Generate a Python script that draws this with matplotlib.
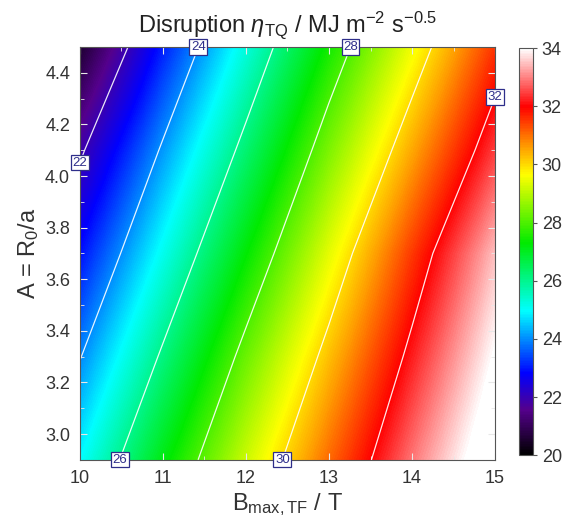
import matplotlib
matplotlib.use("Agg")
import matplotlib.pyplot as plt
from matplotlib.colors import LinearSegmentedColormap, Normalize
from matplotlib.ticker import MultipleLocator, FormatStrFormatter
import numpy as np

plt.rcParams['font.family'] = ['Liberation Sans', 'DejaVu Sans']
plt.rcParams['mathtext.fontset'] = 'custom'
plt.rcParams['mathtext.rm'] = 'Liberation Sans'
plt.rcParams['mathtext.it'] = 'Liberation Sans:italic'
plt.rcParams['mathtext.bf'] = 'Liberation Sans:bold'

# field grid: B_max,TF along columns, aspect ratio A along rows
b_tf = [10.0, 11.0, 12.0, 13.0, 14.0, 15.0]
aspect = [2.9, 3.3, 3.7, 4.1, 4.5]
eta_tq = [
    [24.95, 27.14, 29.17, 31.06, 32.90, 34.60],   # A = 2.9
    [23.96, 26.13, 28.28, 30.27, 32.21, 34.05],   # A = 3.3
    [22.93, 25.11, 27.28, 29.41, 31.50, 33.50],   # A = 3.7
    [21.87, 24.11, 26.27, 28.45, 30.50, 32.48],   # A = 4.1
    [20.55, 23.05, 25.27, 27.47, 29.52, 31.55],   # A = 4.5
]
levels = [22, 24, 26, 28, 30, 32]
# which plot edge each contour label sits on
label_edge = {22: 'left', 24: 'top', 26: 'bottom', 28: 'top', 30: 'bottom', 32: 'right'}

Z = np.array(eta_tq)
B = np.array(b_tf)
A = np.array(aspect)

cmap = LinearSegmentedColormap.from_list('eta', [
    (0.000, (0.0, 0.0, 0.0)),
    (0.110, (0.33, 0.0, 0.55)),
    (0.200, (0.0, 0.0, 1.0)),
    (0.354, (0.0, 1.0, 1.0)),
    (0.521, (0.0, 0.92, 0.0)),
    (0.689, (1.0, 1.0, 0.0)),
    (0.757, (1.0, 0.62, 0.0)),
    (0.857, (1.0, 0.0, 0.0)),
    (1.000, (1.0, 1.0, 1.0)),
])
cmap.set_over('white')
cmap.set_under('black')
norm = Normalize(vmin=20, vmax=34)

fig = plt.figure(figsize=(5.62, 5.22), dpi=100)
ax = fig.add_axes([0.142, 0.119, 0.739, 0.791])

db = (B[1] - B[0]) / 2
da = (A[1] - A[0]) / 2
im = ax.imshow(Z, origin='lower', cmap=cmap, norm=norm, aspect='auto',
               extent=[B[0] - db, B[-1] + db, A[0] - da, A[-1] + da],
               interpolation='bilinear', interpolation_stage='data')

cs = ax.contour(B, A, Z, levels=levels, colors='white', linewidths=0.9, alpha=0.9)

ax.set_xlim(10, 15)
ax.set_ylim(2.9, 4.5)

# boxed labels where each contour meets the frame
for lev, path in zip(cs.levels, cs.get_paths()):
    v = path.vertices
    if len(v) == 0:
        continue
    edge = label_edge[int(lev)]
    if edge == 'left':
        p = v[np.argmin(v[:, 0])]
    elif edge == 'right':
        p = v[np.argmax(v[:, 0])]
    elif edge == 'top':
        p = v[np.argmax(v[:, 1])]
    else:
        p = v[np.argmin(v[:, 1])]
    ax.text(p[0], p[1], '%d' % lev, ha='center', va='center', fontsize=9.5,
            color='#2e2e8a', clip_on=False, zorder=5,
            bbox=dict(boxstyle='square,pad=0.12', fc='white', ec='#2e2e8a', lw=0.9))

ax.xaxis.set_major_locator(MultipleLocator(1))
ax.xaxis.set_minor_locator(MultipleLocator(0.5))
ax.yaxis.set_major_locator(MultipleLocator(0.2))
ax.yaxis.set_minor_locator(MultipleLocator(0.1))
ax.yaxis.set_major_formatter(FormatStrFormatter('%.1f'))
ax.tick_params(which='both', direction='in', top=True, right=True,
               color='#e8e8e8', labelcolor='#333333', labelsize=13, pad=7)
ax.tick_params(which='major', length=5)
ax.tick_params(which='minor', length=3)
for s in ax.spines.values():
    s.set_color('#555555')
    s.set_linewidth(0.8)

ax.set_xlabel(r'B$_{\mathrm{max,TF}}$ / T', fontsize=17, color='#333333', labelpad=3)
ax.set_ylabel(r'A = R$_0$/a', fontsize=17, color='#333333', labelpad=3)
ax.set_title(r'Disruption $\eta_{\mathrm{TQ}}$ / MJ m$^{-2}$ s$^{-0.5}$',
             fontsize=17, color='#222222', pad=11)

cax = fig.add_axes([0.923, 0.128, 0.025, 0.78])
cb = fig.colorbar(im, cax=cax, ticks=range(20, 35, 2))
cb.outline.set_edgecolor('#555555')
cb.outline.set_linewidth(0.8)
cax.tick_params(labelsize=13, labelcolor='#333333', color='#555555', length=3)

fig.savefig('out.png', dpi=100)
